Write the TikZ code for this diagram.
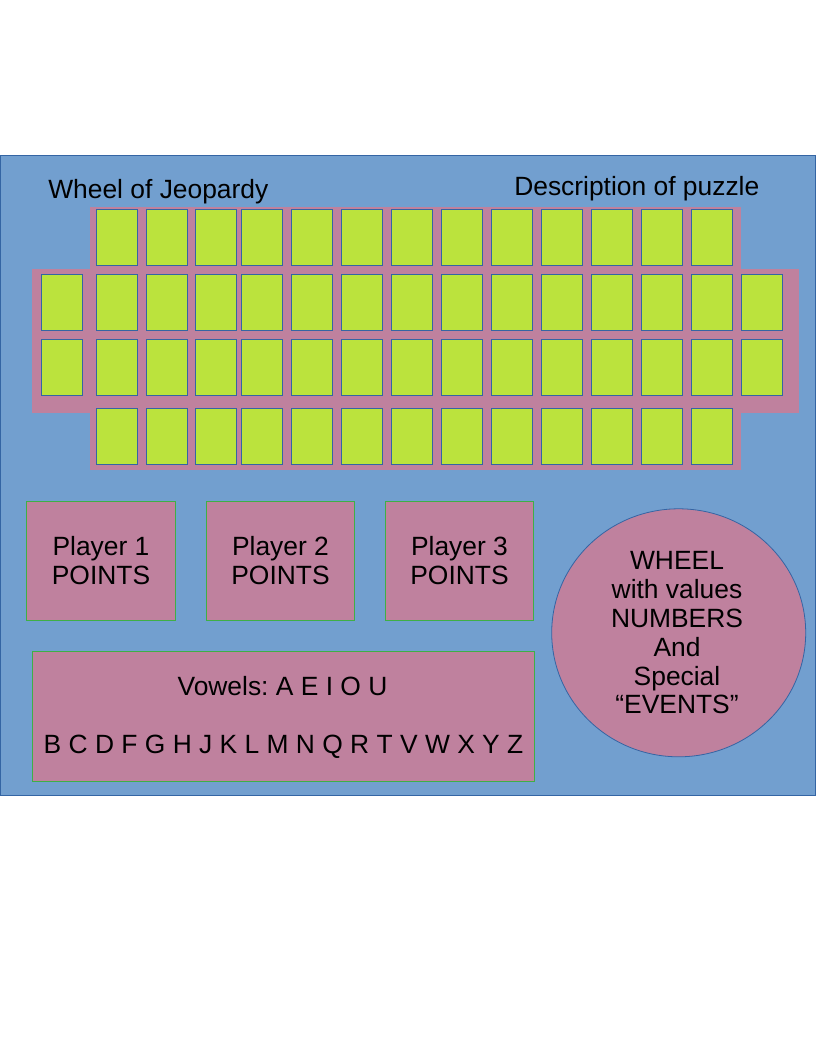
\documentclass[tikz,border=0pt]{standalone}
\usepackage{fontspec}
\setmainfont{Liberation Sans}
\usetikzlibrary{shapes.geometric}
\definecolor{bgblue}{HTML}{729FCF}
\definecolor{bordblue}{HTML}{3465A4}
\definecolor{boardpink}{HTML}{BF819E}
\definecolor{tilegreen}{HTML}{BBE33D}
\definecolor{boxgreen}{HTML}{3FAF46}
\frenchspacing
\begin{document}
\begin{tikzpicture}[x=0.75pt,y=-0.75pt,
  txt/.style={font=\fontsize{19.8pt}{21.6pt}\selectfont, text=black, inner sep=0pt},
  tile/.style={fill=tilegreen, draw=bordblue, line width=0.75pt},
  pbox/.style={fill=boardpink, draw=boxgreen, line width=0.75pt, minimum width=111.3pt, minimum height=89.25pt, inner sep=0pt, align=center, font=\fontsize{19.8pt}{21.6pt}\selectfont},
  wheelshape/.style={ellipse, fill=boardpink, draw=bordblue, line width=0.6pt, minimum width=190.5pt, minimum height=186pt, inner sep=0pt}
]
\useasboundingbox (0,0) rectangle (816,1056);
% background panel
\draw[fill=bgblue, draw=bordblue, line width=0.75pt] (0.5,155.5) rectangle (815.5,795);
% titles
\node[txt, anchor=base west] (title) at (48,198) {Wheel of Jeopardy};
\node[txt, anchor=base west] (desc) at (514,195) {Description of puzzle};
% board
\fill[boardpink] (90,207) rectangle (741,470);
\fill[boardpink] (32,269) rectangle (799,413);
% tiles
\foreach \x in {96,146.3,195.3,241.3,291.3,341.3,391.3,441.3,491.3,541.3,591.3,641.3,691.3}{
  \draw[tile] (\x,209.3) rectangle ++(41.5,56);
  \draw[tile] (\x,408.3) rectangle ++(41.5,56);
}
\foreach \x in {41.3,96,146.3,195.3,241.3,291.3,341.3,391.3,441.3,491.3,541.3,591.3,641.3,691.3,741.3}{
  \draw[tile] (\x,274.3) rectangle ++(41.5,55.7);
  \draw[tile] (\x,339.3) rectangle ++(41.5,56);
}
% player boxes
\node[pbox] (p1) at (101,560.8) {Player 1\\POINTS};
\node[pbox] (p2) at (280.5,560.8) {Player 2\\POINTS};
\node[pbox] (p3) at (459.5,560.8) {Player 3\\POINTS};
% letters box
\draw[fill=boardpink, draw=boxgreen, line width=0.75pt] (32.3,651.7) rectangle (534.7,781.3);
\node[txt, anchor=base] (vowels) at (282.5,695) {Vowels: A E I O U};
\node[txt, anchor=base] (consonants) at (283.5,753.3) {B C D F G H J K L M N Q R T V W X Y Z};
% wheel
\node[wheelshape] (wheel) at (678.7,632.8) {};
\node[txt, align=center] (wheeltext) at (677,633) {WHEEL\\with values\\NUMBERS\\And\\Special\\“EVENTS”};
\end{tikzpicture}
\end{document}
